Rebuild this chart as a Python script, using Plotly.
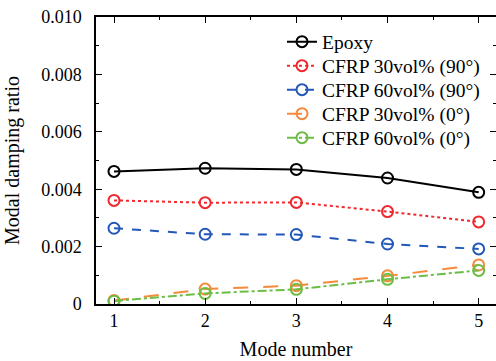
import plotly.graph_objects as go

modes = [1, 2, 3, 4, 5]
epoxy = [0.00462, 0.00473, 0.00469, 0.00439, 0.00389]
cfrp30_90 = [0.00361, 0.00353, 0.00354, 0.00322, 0.00286]
cfrp60_90 = [0.00264, 0.00243, 0.00242, 0.00209, 0.00192]
cfrp30_0 = [0.00012, 0.00052, 0.00064, 0.00098, 0.00136]
cfrp60_0 = [0.00010, 0.00037, 0.00051, 0.00086, 0.00117]

names = ["Epoxy", "CFRP 30vol% (90°)", "CFRP 60vol% (90°)", "CFRP 30vol% (0°)", "CFRP 60vol% (0°)"]
series = [epoxy, cfrp30_90, cfrp60_90, cfrp30_0, cfrp60_0]
colors = ["#000000", "#f0282d", "#2358b8", "#f58a3a", "#6cbd45"]
dashes = ["solid", "dot", "dash", "longdash", "dashdot"]

yticks = [0, 0.002, 0.004, 0.006, 0.008, 0.010]
yticktext = ["0", "0.002", "0.004", "0.006", "0.008", "0.010"]

FONT = "Liberation Serif, Times New Roman, serif"

# legend row centres (pixels from top of figure)
legend_rows = [42, 66, 90, 114, 138]
PLOT_TOP, PLOT_BOTTOM = 17, 304

fig = go.Figure()
legend_layout = {}
for i, (n, s, c, d) in enumerate(zip(names, series, colors, dashes)):
    key = "legend" if i == 0 else f"legend{i+1}"
    fig.add_trace(go.Scatter(
        x=modes, y=s, name=n, mode="lines+markers",
        line=dict(color=c, width=2, dash=d),
        marker=dict(symbol="circle-open", size=11, color=c, line=dict(width=2, color=c)),
        legend=key,
    ))
    legend_layout[key] = dict(
        x=0.465, y=(PLOT_BOTTOM - legend_rows[i]) / (PLOT_BOTTOM - PLOT_TOP),
        xanchor="left", yanchor="middle",
        bgcolor="rgba(0,0,0,0)", borderwidth=0,
        font=dict(family=FONT, size=19.5),
    )

axis_common = dict(
    showline=True, linecolor="black", linewidth=1.5, mirror="ticks",
    ticks="inside", ticklen=6, tickwidth=1.2, tickcolor="black",
    showgrid=False, zeroline=False, automargin=False,
    tickfont=dict(family=FONT, size=18, color="black"),
)

fig.update_layout(
    width=496, height=361,
    margin=dict(l=96, r=0, t=PLOT_TOP, b=361 - PLOT_BOTTOM),
    paper_bgcolor="white", plot_bgcolor="white",
    font=dict(family=FONT, size=19, color="black"),
    xaxis=dict(
        range=[0.8026, 5.19], tickvals=modes,
        minor=dict(ticks="inside", ticklen=3, dtick=0.5, tick0=0.5, tickcolor="black"),
        title=dict(text="Mode number", font=dict(family=FONT, size=20), standoff=12),
        **axis_common,
    ),
    yaxis=dict(
        range=[0, 0.010], tickvals=yticks, ticktext=yticktext,
        minor=dict(ticks="inside", ticklen=3, dtick=0.001, tick0=0, tickcolor="black"),
        title=dict(text="Modal damping ratio", font=dict(family=FONT, size=20), standoff=16),
        ticklabelstandoff=9,
        **axis_common,
    ),
    showlegend=True,
    **legend_layout,
)

fig.write_html("out.html", config={"displayModeBar": False},
               post_script="document.body.style.margin='0px';")
